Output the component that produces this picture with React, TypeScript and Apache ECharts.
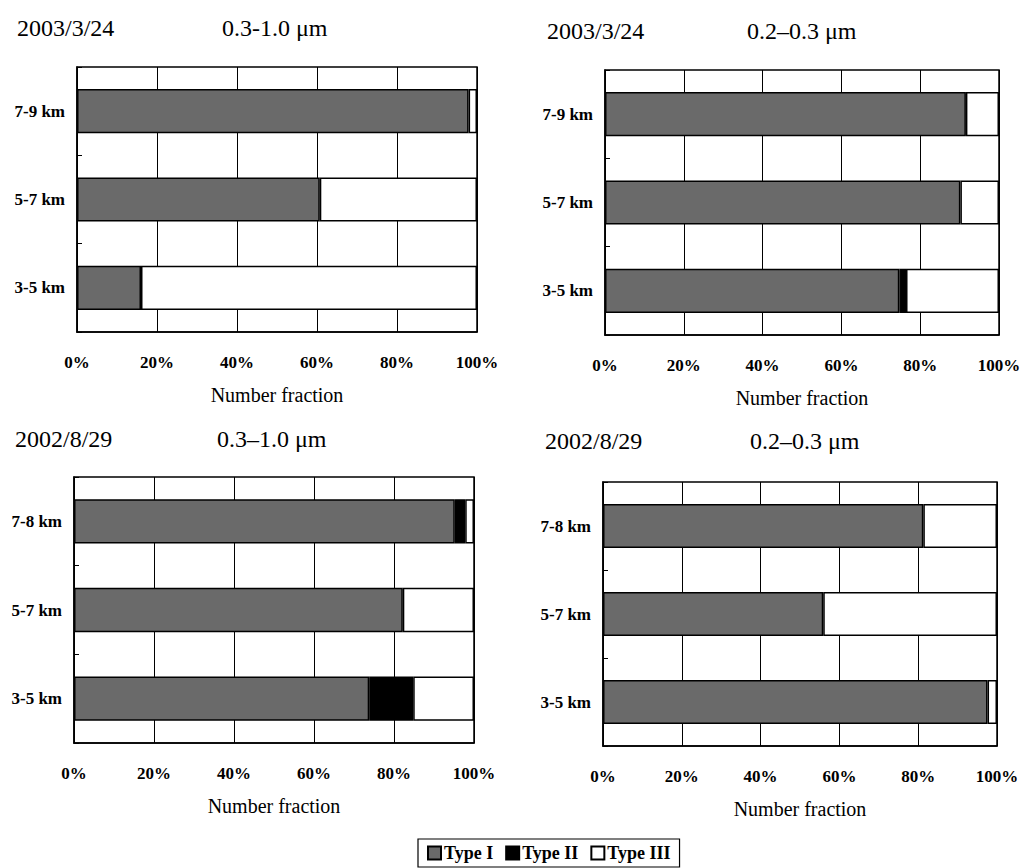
import React, { useEffect, useRef } from "react";
import * as echarts from "echarts";

// ---- data ----
const seriesNames = ["Type I", "Type II", "Type III"];
const xTicks = [0, 20, 40, 60, 80, 100];

const catsA = ["3-5 km", "5-7 km", "7-9 km"];
const typeI_A = [16, 60.7, 97.9];
const typeII_A = [0, 0, 0];
const typeIII_A = [84, 39.3, 2.1];

const catsB = ["3-5 km", "5-7 km", "7-9 km"];
const typeI_B = [74.7, 90.2, 91.6];
const typeII_B = [1.7, 0, 0];
const typeIII_B = [23.6, 9.8, 8.4];

const catsC = ["3-5 km", "5-7 km", "7-8 km"];
const typeI_C = [73.8, 82.2, 95.2];
const typeII_C = [11, 0, 2.6];
const typeIII_C = [15.2, 17.8, 2.2];

const catsD = ["3-5 km", "5-7 km", "7-8 km"];
const typeI_D = [97.6, 55.9, 81.3];
const typeII_D = [0, 0, 0];
const typeIII_D = [2.4, 44.1, 18.7];

const dates = ["2003/3/24", "2003/3/24", "2002/8/29", "2002/8/29"];
const sizes = ["0.3-1.0 \u03bcm", "0.2\u20130.3 \u03bcm", "0.3\u20131.0 \u03bcm", "0.2\u20130.3 \u03bcm"];

const panels = [
  { cats: catsA, vals: [typeI_A, typeII_A, typeIII_A] },
  { cats: catsB, vals: [typeI_B, typeII_B, typeIII_B] },
  { cats: catsC, vals: [typeI_C, typeII_C, typeIII_C] },
  { cats: catsD, vals: [typeI_D, typeII_D, typeIII_D] },
];

// ---- layout ----
const grids = [
  { left: 77, top: 67, width: 400, height: 265 },
  { left: 605, top: 70, width: 394, height: 265 },
  { left: 74, top: 477, width: 400, height: 266 },
  { left: 603, top: 482, width: 394, height: 264 },
];
const dateTitlePos = [
  { x: 17, y: 29 },
  { x: 547, y: 32 },
  { x: 15, y: 440 },
  { x: 545, y: 442 },
];
const sizeTitlePos = [
  { x: 222, y: 29 },
  { x: 747, y: 32 },
  { x: 217, y: 440 },
  { x: 750, y: 442 },
];

const FONT = "'Liberation Serif', 'Times New Roman', serif";
const colors = ["#6a6a6a", "#000000", "#ffffff"];

export default function App() {
  const ref = useRef<HTMLDivElement>(null);
  useEffect(() => {
    if (!ref.current) return;
    const chart = echarts.init(ref.current, undefined, { renderer: "svg" });

    const xAxis = grids.map((_, i) => ({
      type: "value",
      gridIndex: i,
      min: xTicks[0],
      max: xTicks[xTicks.length - 1],
      interval: xTicks[1] - xTicks[0],
      axisLine: { show: true, lineStyle: { color: "#000", width: 1.5 } },
      axisTick: { show: false },
      axisLabel: {
        formatter: "{value}%",
        fontFamily: FONT,
        fontWeight: "bold",
        fontSize: 17,
        color: "#000",
        margin: 22,
      },
      splitLine: { show: true, lineStyle: { color: "#000", width: 1 } },
      name: "Number fraction",
      nameLocation: "middle",
      nameGap: 53,
      nameTextStyle: { fontFamily: FONT, fontSize: 20, color: "#000" },
    }));

    const yAxis = grids.map((_, i) => ({
      type: "category",
      gridIndex: i,
      data: panels[i].cats,
      axisLine: { show: true, lineStyle: { color: "#000", width: 1.5 } },
      axisTick: { show: true, inside: true, length: 5, lineStyle: { color: "#000", width: 1 } },
      axisLabel: {
        fontFamily: FONT,
        fontWeight: "bold",
        fontSize: 17,
        color: "#000",
        margin: 12,
      },
      splitLine: { show: false },
    }));

    const series: any[] = [];
    panels.forEach((p, i) => {
      seriesNames.forEach((nm, k) => {
        series.push({
          type: "bar",
          name: nm,
          stack: "s" + i,
          xAxisIndex: i,
          yAxisIndex: i,
          barWidth: "50%",
          data: p.vals[k].map((v) => (v === 0 ? null : v)),
          itemStyle: { color: colors[k], borderColor: "#000", borderWidth: 1.5 },
        });
      });
    });

    const graphics: any[] = [];
    for (let i = 0; i < 4; i++) {
      graphics.push({
        type: "text",
        left: dateTitlePos[i].x,
        top: dateTitlePos[i].y - 13,
        style: { text: dates[i], font: `24px ${FONT}`, fill: "#000" },
      });
      graphics.push({
        type: "text",
        left: sizeTitlePos[i].x,
        top: sizeTitlePos[i].y - 13,
        style: { text: sizes[i], font: `24px ${FONT}`, fill: "#000" },
      });
    }

    chart.setOption({
      animation: false,
      backgroundColor: "#fff",
      grid: grids.map((g) => ({
        ...g,
        show: true,
        borderColor: "#000",
        borderWidth: 1.5,
        backgroundColor: "#fff",
        containLabel: false,
      })),
      xAxis,
      yAxis,
      series,
      graphic: graphics,
      legend: {
        data: seriesNames,
        left: 418,
        top: 839,
        icon: "rect",
        itemWidth: 13,
        itemHeight: 13,
        itemGap: 12,
        padding: [5, 9],
        borderColor: "#000",
        borderWidth: 1.2,
        textStyle: { fontFamily: FONT, fontWeight: "bold", fontSize: 18, color: "#000", padding: [0, 0, 0, -2] },
        selectedMode: false,
      },
    });
    return () => chart.dispose();
  }, []);
  return (
    <div
      ref={ref}
      style={{ position: "fixed", left: 0, top: 0, width: 1031, height: 868, background: "#fff" }}
    />
  );
}
